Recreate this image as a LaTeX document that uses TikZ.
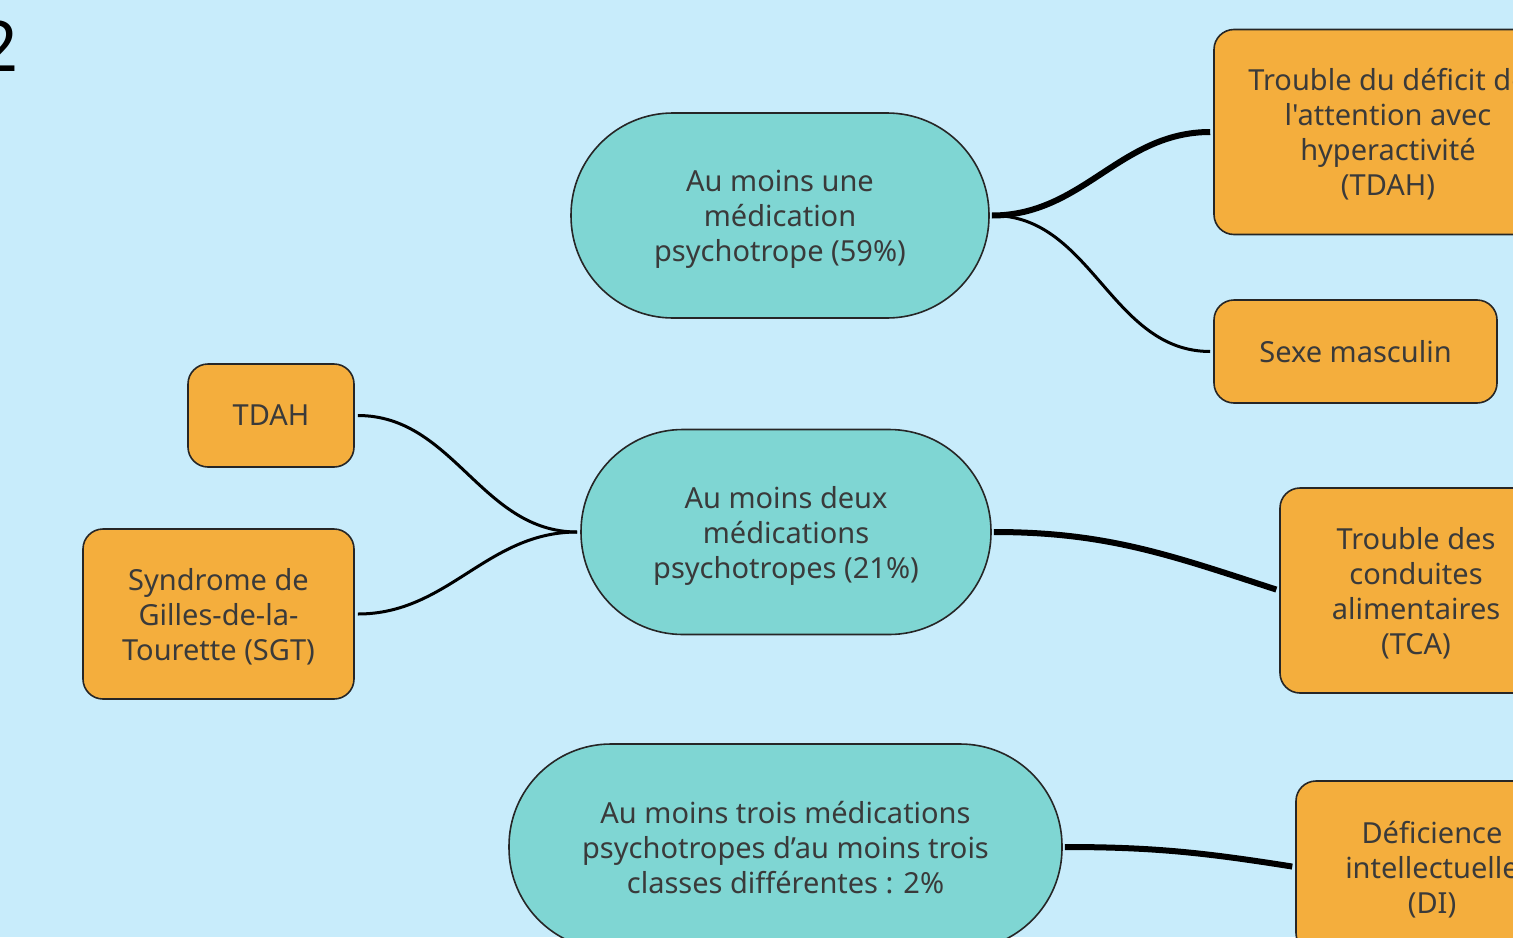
\documentclass[tikz,border=0pt]{standalone}
\usepackage{fontspec}
\newfontfamily\carte{Noto Sans}
\definecolor{fond}{HTML}{C8ECFB}
\definecolor{turquoise}{HTML}{7FD6D3}
\definecolor{orangebox}{HTML}{F4AE3D}
\definecolor{encre}{HTML}{3A3A3A}
\tikzset{medic/.style={draw=black!85, line width=0.8pt, fill=turquoise, rounded corners=51pt, minimum height=102.5pt, inner sep=0pt, text depth=0pt, align=center, text=encre, font=\carte\fontsize{14.5}{17.5}\selectfont}}
\tikzset{facteur/.style={draw=black!85, line width=0.8pt, fill=orangebox, rounded corners=10pt, inner sep=0pt, text depth=0pt, align=center, text=encre, font=\carte\fontsize{14.5}{17.5}\selectfont}}
\tikzset{lien/.style={draw, line width=1.5pt, shorten <=1.5pt, shorten >=1.5pt}}
\tikzset{lien2/.style={draw, line width=3pt, shorten <=1pt, shorten >=1.5pt}}
\begin{document}
\begin{tikzpicture}[x=0.5pt, y=-0.5pt]
  \clip (0,0) rectangle (1513,937);
  \fill[fond] (0,0) rectangle (1513,937);
  \node[anchor=base east, inner sep=0pt, font=\carte\bfseries\fontsize{35}{40}\selectfont] (num) at (19,71) {2};
  % medications
  \node[medic, minimum width=209pt] (A) at (780,215.5)
      {Au moins une\\médication\\psychotrope (59\%)};
  \node[medic, minimum width=205pt] (B) at (786,532)
      {Au moins deux\\médications\\psychotropes (21\%)};
  \node[medic, minimum width=276.5pt, minimum height=103pt] (C) at (785.5,847)
      {Au moins trois médications\\psychotropes d’au moins trois\\classes différentes : 2\%};
  % facteurs
  \node[facteur, minimum width=174pt, minimum height=102.5pt] (TDAH) at (1388,132)
      {Trouble du déficit de\\l'attention avec\\hyperactivité\\(TDAH)};
  \node[facteur, minimum width=141.5pt, minimum height=51.5pt] (SM) at (1355.5,351.5)
      {Sexe masculin};
  \node[facteur, minimum width=83pt, minimum height=51.5pt] (TDAHb) at (271,415.5)
      {TDAH};
  \node[facteur, minimum width=135.5pt, minimum height=85pt] (SGT) at (218.5,614)
      {Syndrome de\\Gilles-de-la-\\Tourette (SGT)};
  \node[facteur, minimum width=136pt, minimum height=102.5pt] (TCA) at (1416,590.5)
      {Trouble des\\conduites\\alimentaires\\(TCA)};
  \node[facteur, minimum width=136pt, minimum height=86pt] (DI) at (1432,867)
      {Déficience\\intellectuelle\\(DI)};
  % liens
  \draw[lien2] (A.east) to[out=0, in=180] (TDAH.west);
  \draw[lien] (A.east) to[out=0, in=180] (SM.west);
  \draw[lien] (TDAHb.east) to[out=0, in=180] (B.west);
  \draw[lien] (SGT.east) to[out=0, in=180] (B.west);
  \draw[lien2] (B.east) to[out=0, in=162] (TCA.west);
  \draw[lien2] (C.east) to[out=0, in=171] (DI.west);
\end{tikzpicture}
\end{document}
